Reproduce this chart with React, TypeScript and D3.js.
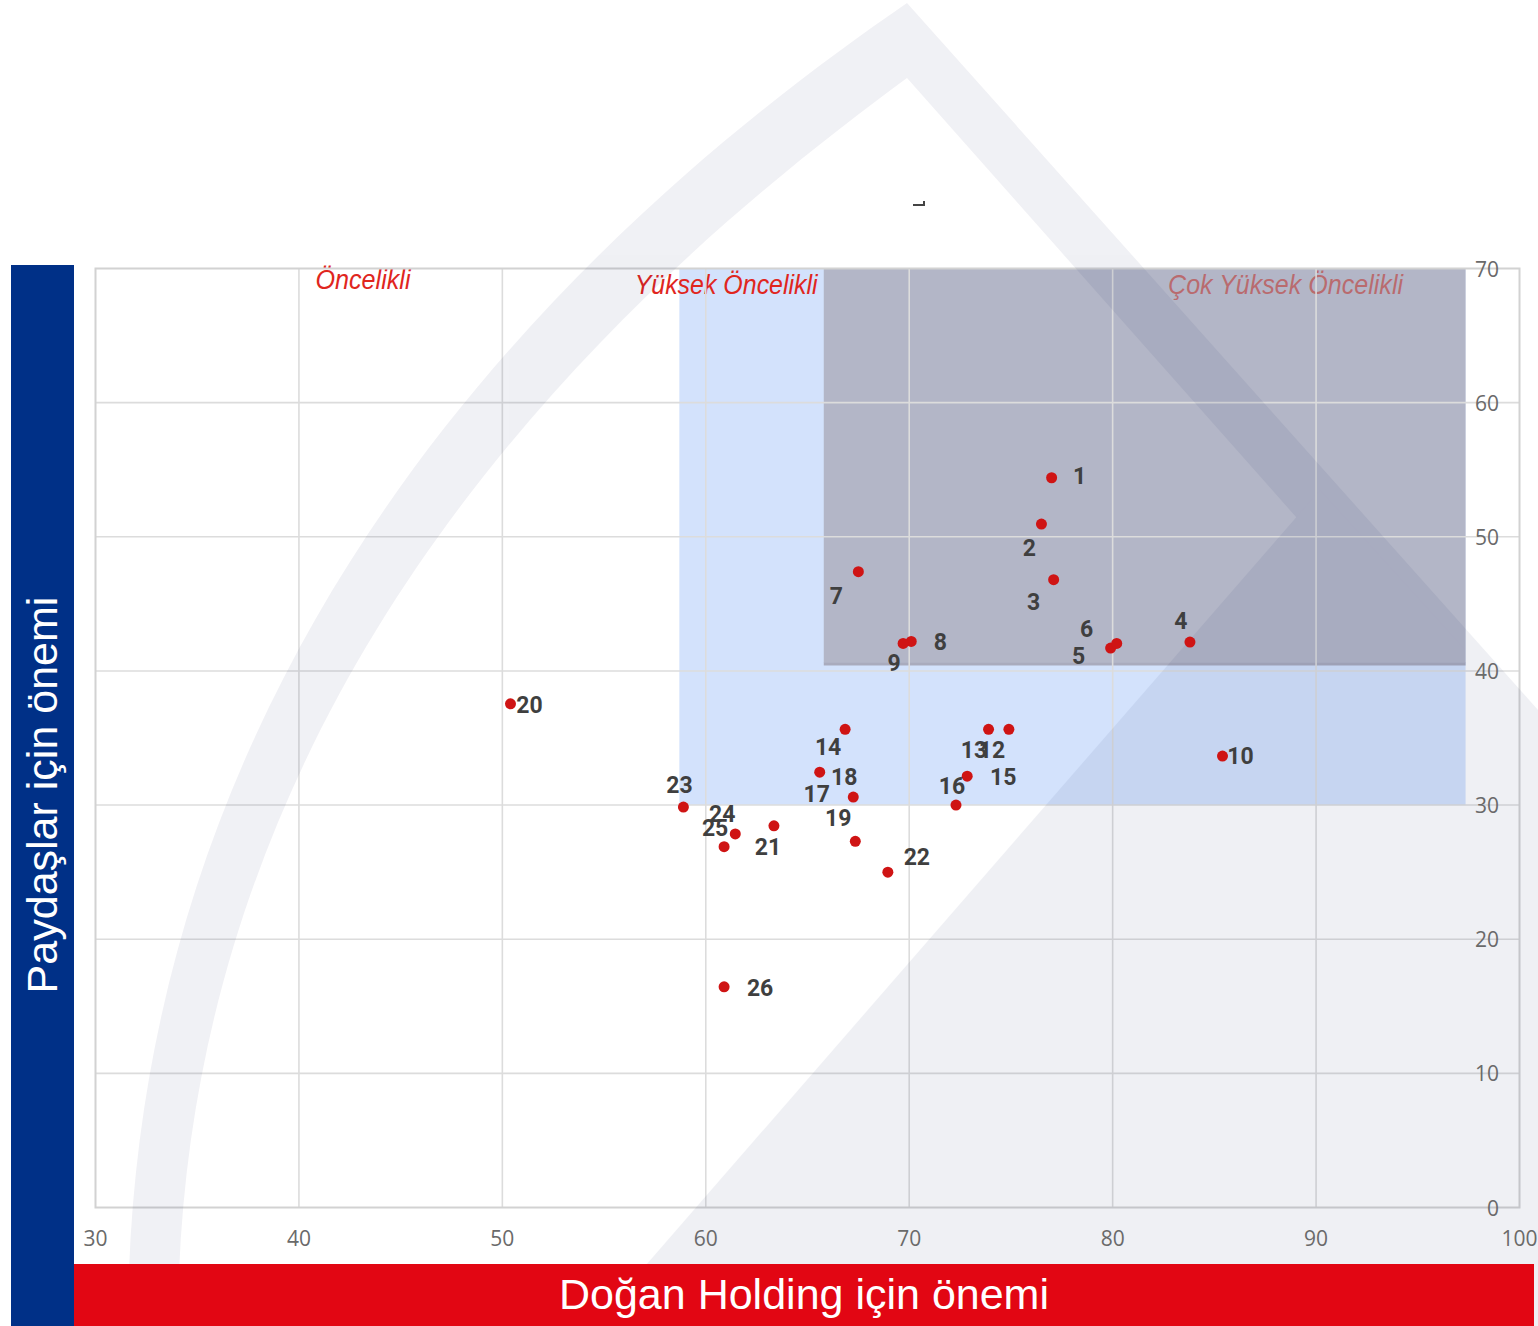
import React from 'react';
import * as d3 from 'd3';

// ---- data ----
const pointIds = ['1','2','3','4','5','6','7','8','9','10','12','13','14','15','16','17','18','19','20','21','22','23','24','25','26'];
const companyImportance = [77.0, 76.5, 77.1, 83.8, 79.9, 80.2, 67.5, 70.1, 69.7, 85.4, 74.9, 73.9, 66.85, 72.85, 72.3, 65.6, 67.25, 67.35, 50.4, 63.35, 68.95, 58.9, 61.45, 60.9, 60.9];
const stakeholderImportance = [54.4, 50.95, 46.8, 42.15, 41.7, 42.05, 47.4, 42.2, 42.05, 33.65, 35.65, 35.65, 35.65, 32.15, 30.0, 32.45, 30.6, 27.3, 37.55, 28.45, 25.0, 29.85, 27.85, 26.9, 16.45];
// label placement (px offsets from each point)
const labelDx = [28, -12, -20, -9, -32, -30, -22, 29, -9, 18, -17, -14.5, -17, 36, -4, -3, -9, -17, 19, -6, 29, -4, -13, -9, 36];
const labelDy = [-1, 24, 23, -21, 8, -14, 25, 1, 20, 0, 21, 21, 18, 1, -19, 22, -20, -23, 2, 22, -15, -22, -19, -18, 2];

const xTicks = [30, 40, 50, 60, 70, 80, 90, 100];
const yTicks = [0, 10, 20, 30, 40, 50, 60, 70];

const zoneNames = ['Öncelikli', 'Yüksek Öncelikli', 'Çok Yüksek Öncelikli'];
const zoneLabelX = [43.15, 61.0, 88.5];
const zoneLabelY = [69.15, 68.8, 68.8];
const highZoneX = [58.7, 97.35];
const highZoneY = [30, 70];
const veryHighZoneX = [65.8, 97.35];
const veryHighZoneY = [40.6, 70];

const xTitle = 'Doğan Holding için önemi';
const yTitle = 'Paydaşlar için önemi';

export default function App() {
  const W = 1538, H = 1326;
  const x = d3.scaleLinear().domain([30, 100]).range([95.5, 1519.5]);
  const y = d3.scaleLinear().domain([0, 70]).range([1207.5, 268.5]);

  const tickFont = "'Open Sans', 'DejaVu Sans', sans-serif";
  const zoneFont = "'Liberation Sans Narrow', 'Liberation Sans', Arial, sans-serif";

  const zoneWidths = [95, 183, 235];

  return (
    <svg width={W} height={H} style={{ position: 'absolute', left: 0, top: 0, background: '#fff' }}>
      <rect x={0} y={0} width={W} height={H} fill="#fff" />

      {/* high priority zone */}
      <rect x={x(highZoneX[0])} y={y(highZoneY[1])} width={x(highZoneX[1]) - x(highZoneX[0])}
        height={y(highZoneY[0]) - y(highZoneY[1])} fill="#d3e2fc" />

      {/* zone labels */}
      {zoneNames.map((n, i) => (
        <text key={n} x={x(zoneLabelX[i])} y={y(zoneLabelY[i])} textAnchor="middle" dominantBaseline="central"
          fontFamily={zoneFont} fontStyle="italic" fontSize={28} fill="#e0261e"
          textLength={zoneWidths[i]} lengthAdjust="spacingAndGlyphs">{n}</text>
      ))}

      {/* very high priority zone */}
      <rect x={x(veryHighZoneX[0])} y={y(veryHighZoneY[1])} width={x(veryHighZoneX[1]) - x(veryHighZoneX[0])}
        height={y(veryHighZoneY[0]) - y(veryHighZoneY[1])} fill="rgb(159,153,164)" fillOpacity={0.6} />
      <line x1={x(veryHighZoneX[0])} x2={x(veryHighZoneX[1])} y1={y(veryHighZoneY[0]) + 1} y2={y(veryHighZoneY[0]) + 1}
        stroke="#a9abbd" strokeWidth={3} />

      {/* grid */}
      {xTicks.slice(1, -1).map(t => (
        <line key={'gx' + t} x1={x(t)} x2={x(t)} y1={y(70)} y2={y(0)} stroke="#dcdcdc" strokeWidth={1.6} />
      ))}
      {yTicks.slice(1, -1).map(t => (
        <line key={'gy' + t} x1={x(30)} x2={x(100)} y1={y(t)} y2={y(t)} stroke="#dcdcdc" strokeWidth={1.6} />
      ))}
      <rect x={x(30)} y={y(70)} width={x(100) - x(30)} height={y(0) - y(70)} fill="none" stroke="#d2d2d2" strokeWidth={2} />

      {/* watermark */}
      <g opacity={0.06} fill="#051658">
        <path d="M907,3 C620,200 128,620 128,1326 L178,1326 C178,660 660,260 907,78 L1538,790 L1538,710 Z" />
        <path d="M1320,490 L1538,730 L1538,1326 L593,1326 Z" />
      </g>

      {/* tick labels */}
      {xTicks.map(t => (
        <text key={'tx' + t} x={x(t)} y={1238} textAnchor="middle" dominantBaseline="central"
          fontFamily={tickFont} fontSize={21} fill="#6a6a6a">{t}</text>
      ))}
      {yTicks.map(t => (
        <text key={'ty' + t} x={1499} y={y(t)} textAnchor="end" dominantBaseline="central"
          fontFamily={tickFont} fontSize={21} fill="#6a6a6a">{t}</text>
      ))}

      {/* points */}
      {pointIds.map((id, i) => (
        <circle key={'p' + id} cx={x(companyImportance[i])} cy={y(stakeholderImportance[i])} r={5.5} fill="#cf1414" />
      ))}
      {pointIds.map((id, i) => (
        <text key={'l' + id} x={x(companyImportance[i]) + labelDx[i]} y={y(stakeholderImportance[i]) + labelDy[i]}
          textAnchor="middle" dominantBaseline="central" fontFamily="Roboto, 'DejaVu Sans', sans-serif"
          fontWeight={700} fontSize={23} fill="#3f3f3f">{id}</text>
      ))}

      {/* stray mark */}
      <path d="M913,205 L924,205 L924,201" fill="none" stroke="#444" strokeWidth={2} />

      {/* axis bars */}
      <rect x={11} y={265} width={63} height={H - 265} fill="#003087" />
      <text transform={`translate(${42 + 15},795) rotate(-90)`} textAnchor="middle"
        fontFamily="'Liberation Sans', Arial, sans-serif" fontSize={43} fill="#fff">{yTitle}</text>
      <rect x={74} y={1264} width={1460} height={H - 1264} fill="#e20613" />
      <text x={804} y={1294 + 15} textAnchor="middle"
        fontFamily="'Liberation Sans', Arial, sans-serif" fontSize={43} fill="#fff">{xTitle}</text>
    </svg>
  );
}
